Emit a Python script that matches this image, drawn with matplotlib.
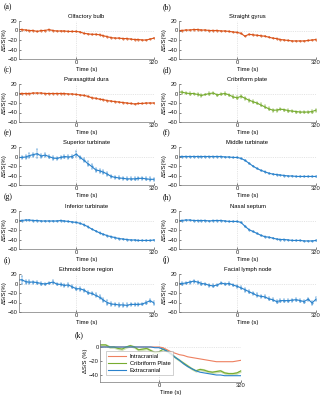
import numpy as np
import matplotlib
matplotlib.use('Agg')
import matplotlib.pyplot as plt

plt.rcParams['font.family'] = ['Liberation Sans', 'DejaVu Sans']

# tiempo (s), 16 s entre puntos
t = np.arange(-240, 321, 16)

titulos = ["Olfactory bulb", "Straight gyrus", "Parasagittal dura", "Cribriform plate",
           "Superior turbinate", "Middle turbinate", "Inferior turbinate", "Nasal septum",
           "Ethmoid bone region", "Facial lymph node"]
letras = ["(a)", "(b)", "(c)", "(d)", "(e)", "(f)", "(g)", "(h)", "(i)", "(j)", "(k)"]

olfactory = [2, 2, 1, 0, 0, -2, 0, 0, 2, 0, -1, -1, -1, -2, -2, -2, -3, -6, -7, -8, -8, -9, -11, -13,
             -15, -16, -16, -17, -17, -18, -19, -19, -20, -20, -18, -16]
gyrus = [0, 0, 1, 1, 2, 2, 1, 1, 0, 0, 0, -1, -1, -2, -3, -4, -6, -12, -8, -9, -10, -11, -12, -14,
         -16, -17, -19, -20, -21, -22, -22, -22, -22, -21, -20, -19]
dura = [0, 0, 0, 0, 1, 1, 1, 0, 0, 0, 0, 0, 0, -1, -1, -2, -3, -4, -6, -9, -10, -12, -13, -15,
        -16, -17, -18, -19, -20, -21, -22, -21, -21, -20, -20, -20]
cribriform = [3, 3, 1, 0, 0, -2, -4, -2, 0, 1, -3, -1, 0, -3, -7, -9, -6, -10, -14, -17, -20, -24, -28, -32,
              -35, -35, -33, -34, -36, -37, -38, -39, -39, -39, -38, -35]
cribriform_err = [3, 3, 2, 3, 2, 3, 3, 2, 3, 3, 2, 3, 3, 2, 3, 3, 3, 3, 3, 3, 3, 3, 3, 3,
                  3, 3, 2, 2, 3, 2, 2, 3, 3, 2, 3, 3]
superior = [-2, -2, -1, 2, 4, 6, 1, 3, 0, -3, -4, -2, 0, -1, 0, 5, -2, -8, -15, -21, -28, -30, -33, -37,
            -42, -44, -45, -46, -47, -47, -47, -46, -46, -47, -48, -48]
superior_err = [4, 3, 4, 5, 4, 10, 4, 4, 3, 4, 3, 4, 3, 4, 3, 6, 4, 4, 5, 5, 4, 4, 4, 5,
                4, 3, 3, 3, 3, 3, 3, 3, 3, 3, 4, 3]
middle = [0, 0, 0, 0, 0, 0, 0, 0, 0, 0, 0, 0, -1, -1, -2, -2, -4, -8, -14, -20, -25, -29, -32, -35,
          -37, -38, -39, -40, -41, -41, -42, -42, -42, -42, -42, -42]
inferior = [0, 0, 1, 1, 0, 0, -1, -1, -1, -1, -1, 0, -1, -2, -3, -4, -6, -9, -13, -18, -22, -26, -29, -32,
            -34, -36, -38, -39, -40, -41, -41, -42, -42, -42, -42, -41]
septum = [0, 0, 1, 1, 0, 0, 0, 0, -1, 0, 0, 0, -1, -2, -2, -2, -4, -12, -19, -23, -27, -31, -34, -35,
          -37, -39, -40, -40, -41, -42, -42, -42, -43, -43, -43, -42]
ethmoid = [7, 8, 4, 3, 3, 2, 0, -1, 1, 3, -1, -2, -4, -3, -7, -11, -11, -14, -19, -21, -25, -29, -35, -40,
           -43, -44, -45, -45, -46, -44, -44, -44, -43, -40, -36, -41]
ethmoid_err = [5, 8, 4, 4, 3, 3, 3, 3, 3, 4, 3, 3, 3, 4, 3, 3, 4, 3, 4, 4, 4, 4, 4, 5,
               4, 4, 4, 5, 4, 4, 4, 4, 3, 4, 3, 4]
lymph = [0, 0, 1, 3, 5, 3, 0, -1, -4, -5, -3, 1, -1, 0, -3, -6, -9, -13, -17, -21, -25, -27, -28, -32,
         -34, -38, -36, -36, -36, -35, -34, -36, -38, -33, -41, -33]
lymph_err = [4, 3, 3, 3, 3, 3, 3, 3, 3, 3, 3, 3, 3, 3, 3, 3, 3, 4, 3, 3, 4, 3, 3, 3,
             3, 3, 3, 3, 3, 3, 3, 3, 3, 3, 5, 4]
# erro pequeno (constante) nos paineis suaves
erro_peq = [0.6, 0.6, 0.6, None, None, 0.8, 0.8, 0.8, None, None]

# painel (k)
intracranial = [0, 0, 0, 0, 0, 0, 0, 0, 0, 0, 0, 0, 0, 0, 0, 0, -1, -4, -7, -9, -11, -12, -14, -15,
                -16, -17, -18, -19, -20, -21, -21, -21, -21, -21, -20, -19]
crib_k = [3, 3, 3, 0, 0, -2, -3, 0, 2, 0, -4, -3, -2, -5, -8, -7, -3, -6, -10, -15, -19, -23, -27, -31,
          -34, -32, -33, -35, -36, -35, -34, -37, -38, -38, -37, -34]
crib_k_err = [2, 2, 2, 2, 2, 2, 2, 2, 2, 2, 2, 2, 2, 2, 2, 2, 2, 2, 2, 2, 2, 2, 2, 2,
              2, 2, 2, 2, 2, 2, 2, 2, 2, 2, 2, 2]
extracranial = [0, 0, 0, 0, 0, 0, 0, 0, 0, 0, 0, 0, 0, 0, -1, -1, -3, -6, -10, -15, -19, -24, -28, -31,
                -34, -36, -37, -38, -39, -40, -40, -41, -41, -41, -41, -41]

dados = [olfactory, gyrus, dura, cribriform, superior, middle, inferior, septum, ethmoid, lymph]
erros = [None, None, None, cribriform_err, superior_err, None, None, None, ethmoid_err, lymph_err]

LARANJA = '#D95319'
VERDE = '#77AC30'
AZUL = '#2a82cc'
cores = [LARANJA, LARANJA, LARANJA, VERDE, AZUL, AZUL, AZUL, AZUL, AZUL, AZUL]

FS = 4.2
W, H = 321.0, 400.0


def eixo(fig, x0, y_top, x1, y_bot):
    # posicao em pixeis -> fraccao da figura
    return fig.add_axes([x0 / W, 1 - y_bot / H, (x1 - x0) / W, (y_bot - y_top) / H])


def estilo(ax, yl, yt, xmin):
    ax.set_xlim(xmin, 320)
    ax.set_ylim(*yl)
    ax.set_yticks(yt)
    ax.set_xticks([0, 320])
    ax.axhline(0, ls=(0, (2, 2)), color='#d0d0d0', lw=0.4, zorder=0)
    ax.axvline(0, ls=(0, (2, 2)), color='#d0d0d0', lw=0.4, zorder=0)
    for s in ['top', 'right']:
        ax.spines[s].set_visible(False)
    for s in ['left', 'bottom']:
        ax.spines[s].set_color('#777777')
        ax.spines[s].set_linewidth(0.5)
    ax.tick_params(labelsize=FS, length=1.2, width=0.4, direction='in', pad=1, colors='#222222')
    ax.set_xlabel("Time (s)", fontsize=FS, labelpad=1)


fig = plt.figure(figsize=(3.21, 4.0), dpi=100)

cols = [(19, 154), (179, 316)]
tops = [21, 84, 147, 211, 274]

for k in range(10):
    lin, col = divmod(k, 2)
    x0, x1 = cols[col]
    ax = eixo(fig, x0, tops[lin], x1, tops[lin] + 38)
    y = np.array(dados[k])
    if erros[k] is not None:
        e = np.array(erros[k])
    else:
        e = np.full(len(y), erro_peq[k])
    ax.errorbar(t, y, yerr=e, color=cores[k], lw=0.8, elinewidth=0.35, capsize=0.8, capthick=0.35,
                marker='.', ms=0.8)
    estilo(ax, (-60, 20), [-60, -40, -20, 0, 20], -235)
    ax.set_ylabel("ΔS/S(%)", fontsize=FS, labelpad=0.5)
    ax.set_title(titulos[k], fontsize=FS, pad=2)
    fig.text((4 if col == 0 else 163) / W, 1 - (tops[lin] - 14) / H, letras[k],
             fontsize=5.5, family='Liberation Serif', va='center')

# painel (k)
ax = eixo(fig, 100, 340, 241, 382)
ax.plot(t, intracranial, color='#EE8060', lw=0.8, label="Intracranial")
ax.fill_between(t, np.array(crib_k) - np.array(crib_k_err), np.array(crib_k) + np.array(crib_k_err),
                color=VERDE, alpha=0.35, lw=0)
ax.plot(t, crib_k, color=VERDE, lw=0.8, label="Cribriform Plate")
ax.plot(t, extracranial, color=AZUL, lw=0.8, label="Extracranial")
estilo(ax, (-50, 10), [-40, -20, 0], -230)
ax.set_ylabel("ΔS/S (%)", fontsize=FS, labelpad=0.5)
leg = ax.legend(loc='lower left', fontsize=4.2, frameon=True, fancybox=False, handlelength=3.2,
                borderpad=0.35, labelspacing=0.35, handletextpad=0.6, bbox_to_anchor=(0.02, 0.1))
leg.get_frame().set_edgecolor('#999999')
leg.get_frame().set_linewidth(0.4)
fig.text(75 / W, 1 - 335 / H, letras[10], fontsize=5.5, family='Liberation Serif', va='center')

plt.savefig("out.png", dpi=100)
